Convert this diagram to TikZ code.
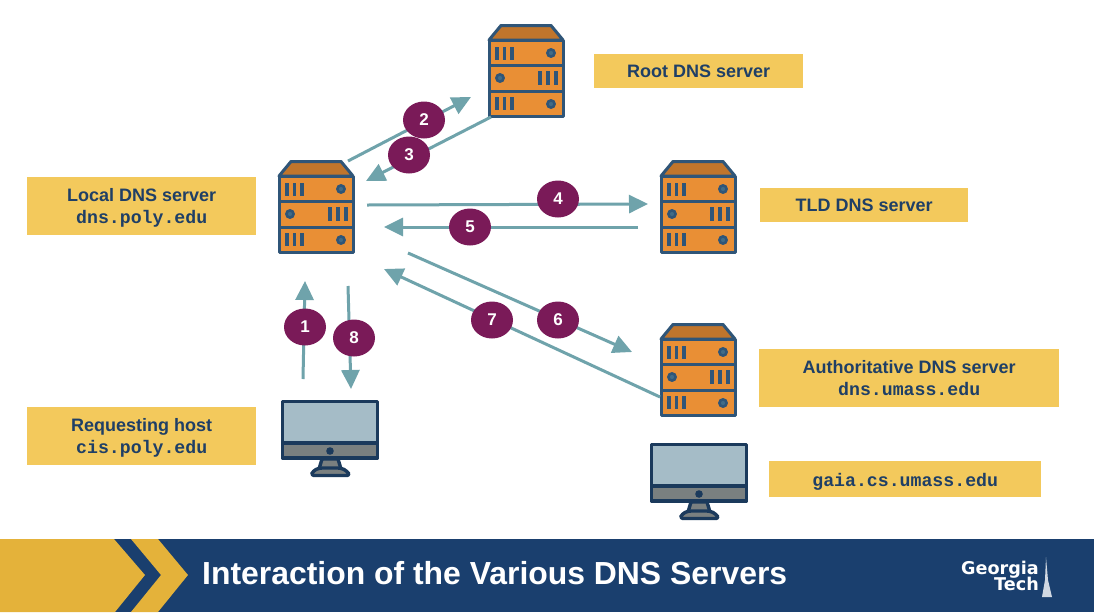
\documentclass[tikz,border=0pt]{standalone}
\usepackage{fontspec}
\setmainfont{Liberation Sans}
\newfontfamily\monof{Liberation Mono}
\newfontfamily\logof{DejaVu Sans}
\usetikzlibrary{arrows.meta,shapes.geometric}
\definecolor{srvline}{HTML}{2F5578}
\definecolor{srvfill}{HTML}{E98F35}
\definecolor{srvroof}{HTML}{C0752C}
\definecolor{flow}{HTML}{6FA3AB}
\definecolor{badge}{HTML}{7A1A58}
\definecolor{lab}{HTML}{F3C95C}
\definecolor{labtxt}{HTML}{1F3F66}
\definecolor{navy}{HTML}{1A3F6E}
\definecolor{gold}{HTML}{E4B23A}
\definecolor{monline}{HTML}{1B3A5C}
\definecolor{monscr}{HTML}{A5BCC7}
\definecolor{mongray}{HTML}{7A8080}
\tikzset{
  srvbox/.style={minimum width=76pt,minimum height=93pt,inner sep=0pt,anchor=north west},
  monbox/.style={minimum width=98pt,minimum height=77pt,inner sep=0pt,anchor=north west},
  labbox/.style={fill=lab,inner sep=0pt,anchor=north west,align=center,text=labtxt,font=\fontsize{18}{22}\selectfont\bfseries},
  flowline/.style={draw=flow,line width=3pt,-{Triangle[length=19pt,width=18pt]}},
  numbadge/.style={ellipse,fill=badge,text=white,minimum width=42pt,minimum height=37pt,inner sep=0pt,font=\fontsize{17}{17}\selectfont\bfseries},
  server/.pic={
    \begin{scope}[draw=srvline,line width=3pt,line join=round]
      \filldraw[fill=srvroof] (1,16) -- (13,1.5) -- (63,1.5) -- (75,16) -- cycle;
      \filldraw[fill=srvfill] (1,16) rectangle (75,92);
      \draw (1,41) -- (75,41) (1,67) -- (75,67);
      \begin{scope}[line width=3.6pt]
      \foreach \x in {9,16.5,24} {
        \draw (\x,23) -- (\x,36);
        \draw (\x,73) -- (\x,86);
      }
      \foreach \x in {52,60,68} \draw (\x,47) -- (\x,61);
      \end{scope}
      \filldraw[fill=srvline!70!flow,line width=2.6pt] (63,29) circle (3.6);
      \filldraw[fill=srvline!70!flow,line width=2.6pt] (12,54) circle (3.6);
      \filldraw[fill=srvline!70!flow,line width=2.6pt] (63,80) circle (3.6);
    \end{scope}
  },
  monitor/.pic={
    \begin{scope}[draw=monline,line width=3.4pt,line join=round]
      \filldraw[fill=mongray] (41,59) -- (57,59) -- (60,69) -- (38,69) -- cycle;
      \filldraw[fill=mongray,rounded corners=3pt] (30,75.5) -- (32,71) -- (38,68) -- (60,68) -- (66,71) -- (69,75.5) -- cycle;
      \filldraw[fill=monscr] (1.5,1.5) rectangle (96.5,43);
      \filldraw[fill=mongray] (1.5,43) rectangle (96.5,58);
      \fill[monline] (49,51) circle (3.8);
    \end{scope}
  }
}
\begin{document}
\begin{tikzpicture}[x=1pt,y=-1pt]
\useasboundingbox (0,0) rectangle (1098,614);
\fill[white] (0,0) rectangle (1098,614);

% banner
\fill[navy] (0,539) rectangle (1094,612);
\fill[gold] (0,539) -- (114,539) -- (145,575) -- (115,612) -- (0,612) -- cycle;
\fill[gold] (131,539) -- (158,539) -- (188,575) -- (158,612) -- (131,612) -- (161,575) -- cycle;
\node[anchor=west,text=white,inner sep=0pt,font=\fontsize{31.9}{34}\selectfont\bfseries] (title) at (202,573) {Interaction of the Various DNS Servers};
\node[anchor=south east,text=white,inner sep=0pt,font=\logof\fontsize{17.6}{17.6}\selectfont\bfseries] (logo1) at (1039,578) {Georgia};
\node[anchor=north east,text=white,inner sep=0pt,font=\logof\fontsize{17.6}{17.6}\selectfont\bfseries] (logo2) at (1039,577) {Tech};
\fill[white!80!navy] (1046,557) -- (1048,580) -- (1052,597) -- (1042,597) -- (1045,580) -- cycle;

% servers
\node[srvbox] (local) at (278,160) {};
\pic at (local.north west) {server};
\node[srvbox] (root) at (488,24) {};
\pic at (root.north west) {server};
\node[srvbox] (tld) at (660,160) {};
\pic at (tld.north west) {server};
\node[srvbox] (auth) at (660,323) {};
\pic at (auth.north west) {server};

% monitors
\node[monbox] (host) at (281,400) {};
\pic at (host.north west) {monitor};
\node[monbox] (gaia) at (650,443) {};
\pic at (gaia.north west) {monitor};

% labels
\node[labbox,minimum width=229pt,minimum height=58pt] (llocal) at (27,177) {\rule{0pt}{17pt}Local DNS server\\{\monof\fontsize{18.2}{20}\selectfont dns.poly.edu}};
\node[labbox,minimum width=209pt,minimum height=34pt] (lroot) at (594,54) {Root DNS server};
\node[labbox,minimum width=208pt,minimum height=34pt] (ltld) at (760,188) {TLD DNS server};
\node[labbox,minimum width=300pt,minimum height=58pt] (lauth) at (759,349) {Authoritative DNS server\\{\monof\fontsize{18.2}{20}\selectfont dns.umass.edu}};
\node[labbox,minimum width=229pt,minimum height=58pt] (lhost) at (27,407) {\rule{0pt}{17pt}Requesting host\\{\monof\fontsize{18.2}{20}\selectfont cis.poly.edu}};
\node[labbox,minimum width=272pt,minimum height=36pt] (lgaia) at (769,461) {\rule{0pt}{18pt}{\monof\fontsize{18.2}{20}\selectfont gaia.cs.umass.edu}};

% connector ends
\coordinate (s2) at (348,161); \coordinate (e2) at (471,97);
\coordinate (s3) at (491,117); \coordinate (e3) at (366,181);
\coordinate (s4) at (367,205); \coordinate (e4) at (648,204);
\coordinate (s5) at (638,227); \coordinate (e5) at (384,227);
\coordinate (s6) at (408,253); \coordinate (e6) at (632,352);
\coordinate (s7) at (660,397); \coordinate (e7) at (384,269);
\coordinate (s1) at (303,379); \coordinate (e1) at (305,281);
\coordinate (s8) at (348,286); \coordinate (e8) at (351,389);
\foreach \n in {1,...,8} \draw[flowline] (s\n) -- (e\n);

% badges
\node[numbadge] (b2) at (424,120) {2};
\node[numbadge] (b3) at (409,155) {3};
\node[numbadge] (b4) at (558,199) {4};
\node[numbadge] (b5) at (470,227) {5};
\node[numbadge] (b6) at (558,320) {6};
\node[numbadge] (b7) at (492,320) {7};
\node[numbadge] (b1) at (305,327) {1};
\node[numbadge] (b8) at (354,338) {8};
\end{tikzpicture}
\end{document}
